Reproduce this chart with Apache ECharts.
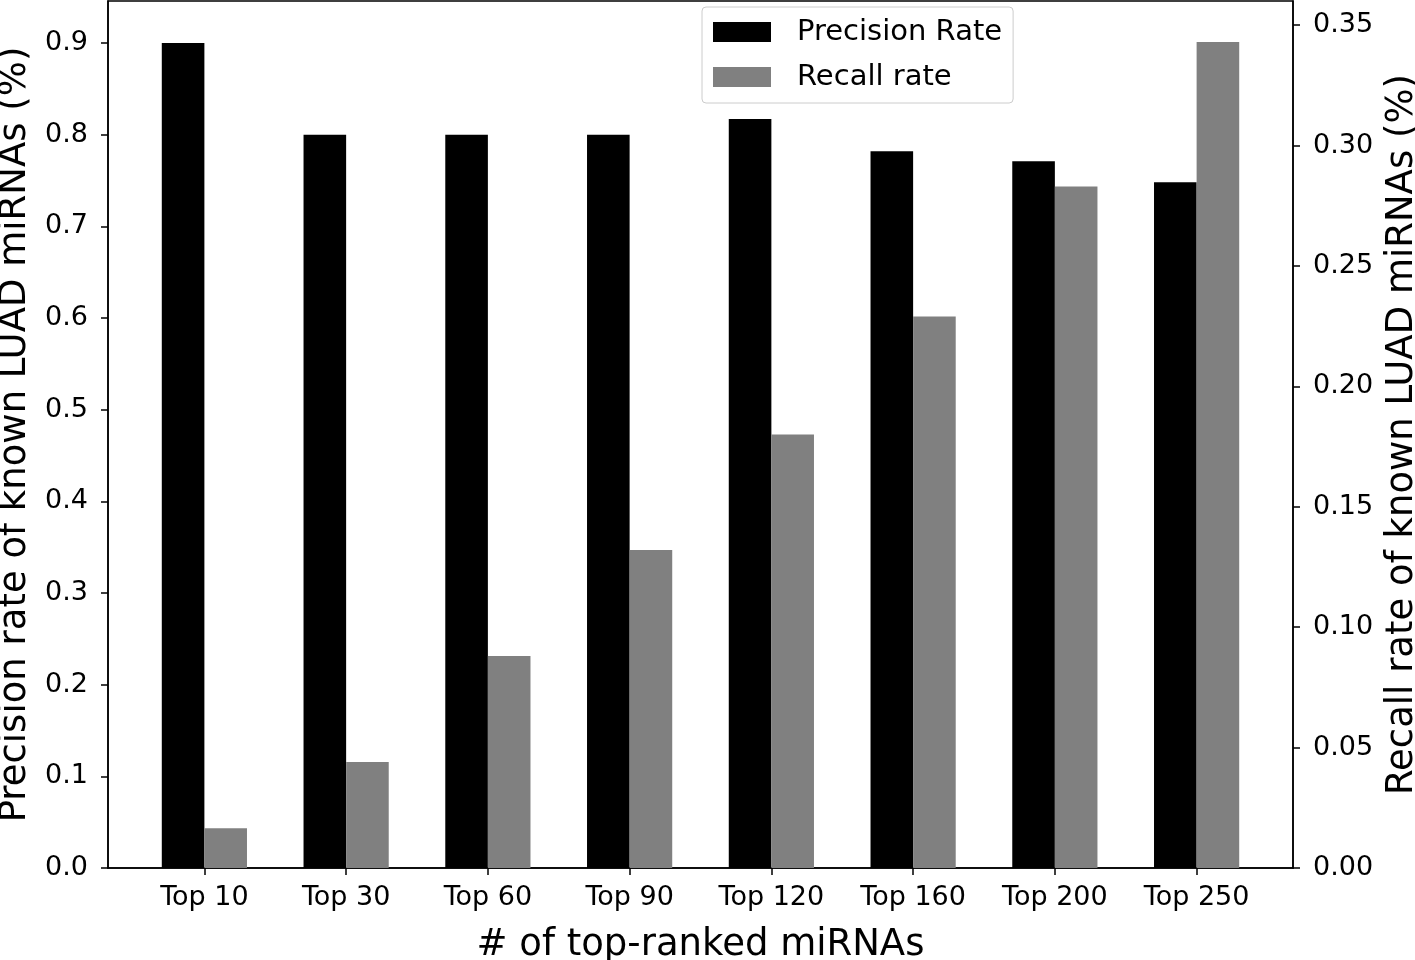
<!DOCTYPE html>
<html>
<head>
<meta charset="utf-8">
<script src="https://cdn.jsdelivr.net/npm/echarts@6/dist/echarts.min.js"></script>
<style>html,body{margin:0;padding:0;background:#fff}#c{width:1415px;height:960px}</style>
</head>
<body>
<div id="c"></div>
<script>
const categories = ['Top 10','Top 30','Top 60','Top 90','Top 120','Top 160','Top 200','Top 250'];
const precision = [0.9, 0.8, 0.8, 0.8, 0.817, 0.782, 0.771, 0.748];
const recall = [0.0165, 0.044, 0.088, 0.132, 0.180, 0.229, 0.283, 0.343];
const leftTicks = [0, 0.1, 0.2, 0.3, 0.4, 0.5, 0.6, 0.7, 0.8, 0.9];
const rightTicks = [0, 0.05, 0.10, 0.15, 0.20, 0.25, 0.30, 0.35];

const FONT = 'DejaVu Sans';
const idx = categories.map((c, i) => i);
const chart = echarts.init(document.getElementById('c'), null, {renderer: 'canvas'});
chart.setOption({
  animation: false,
  backgroundColor: '#fff',
  textStyle: {fontFamily: FONT, color: '#000'},
  grid: {left: 108, right: 122, top: 1, bottom: 92, containLabel: false, outerBoundsMode: 'none',
         show: true, borderColor: '#000', borderWidth: 1.5, backgroundColor: 'transparent'},
  legend: {
    orient: 'vertical', left: 702, top: 7,
    itemWidth: 58, itemHeight: 20, itemGap: 7,
    padding: [6, 11, 7, 11],
    borderColor: '#cccccc', borderWidth: 1, borderRadius: 4, backgroundColor: '#fff',
    textStyle: {fontFamily: FONT, fontSize: 29, color: '#000', lineHeight: 30, padding: [8, 0, 0, 21]},
    itemStyle: {borderWidth: 0},
    data: [{name: 'Precision Rate', icon: 'rect'}, {name: 'Recall rate', icon: 'rect'}]
  },
  xAxis: {
    type: 'value', min: -0.68, max: 7.68,
    name: '# of top-ranked miRNAs', nameLocation: 'middle', nameGap: 59,
    nameTextStyle: {fontFamily: FONT, fontSize: 37, color: '#000'},
    axisLine: {show: true, onZero: false, lineStyle: {color: '#000', width: 1.5}},
    axisTick: {show: true, length: 7, lineStyle: {color: '#000', width: 1.5}, customValues: idx},
    axisLabel: {customValues: idx, formatter: v => categories[Math.round(v)], fontFamily: FONT, fontSize: 27, color: '#000', margin: 16},
    splitLine: {show: false}
  },
  yAxis: [{
    type: 'value', min: 0, max: 0.9458, position: 'left',
    name: 'Precision rate of known LUAD miRNAs (%)', nameLocation: 'middle', nameGap: 72, nameRotate: 90,
    nameTextStyle: {fontFamily: FONT, fontSize: 37, color: '#000'},
    axisLine: {show: true, onZero: false, lineStyle: {color: '#000', width: 1.5}},
    axisTick: {show: true, length: 7, lineStyle: {color: '#000', width: 1.5}, customValues: leftTicks},
    axisLabel: {customValues: leftTicks, formatter: v => v.toFixed(1), fontFamily: FONT, fontSize: 27, color: '#000', margin: 20},
    splitLine: {show: false}
  }, {
    type: 'value', min: 0, max: 0.36, position: 'right',
    name: 'Recall rate of known LUAD miRNAs (%)', nameLocation: 'middle', nameGap: 88, nameRotate: 90,
    nameTextStyle: {fontFamily: FONT, fontSize: 37, color: '#000'},
    axisLine: {show: true, onZero: false, lineStyle: {color: '#000', width: 1.5}},
    axisTick: {show: true, length: 7, lineStyle: {color: '#000', width: 1.5}, customValues: rightTicks},
    axisLabel: {customValues: rightTicks, formatter: v => v.toFixed(2), fontFamily: FONT, fontSize: 27, color: '#000', margin: 20},
    splitLine: {show: false}
  }],
  series: [{
    name: 'Precision Rate', type: 'bar', xAxisIndex: 0, yAxisIndex: 0,
    barWidth: 42.6, barGap: '0%',
    itemStyle: {color: '#000000'},
    data: precision.map((v, i) => [i, v])
  }, {
    name: 'Recall rate', type: 'bar', xAxisIndex: 0, yAxisIndex: 1,
    barWidth: 42.6, barGap: '0%',
    itemStyle: {color: '#808080'},
    data: recall.map((v, i) => [i, v])
  }]
});
</script>
</body>
</html>
